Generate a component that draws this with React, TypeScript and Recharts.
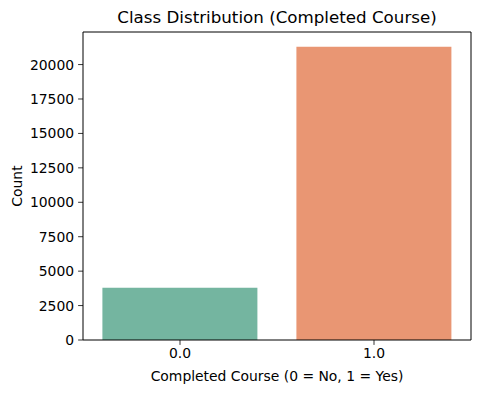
import { BarChart, Bar, XAxis, YAxis, Cell } from "recharts";

const categories = ["0.0", "1.0"];
const counts = [3790, 21300];
const barColors = ["#74b5a0", "#e99673"];
const yTicks = [0, 2500, 5000, 7500, 10000, 12500, 15000, 17500, 20000];

const data = categories.map((c, i) => ({ label: c, count: counts[i] }));

const font = "DejaVu Sans, sans-serif";
const tickStyle = { fill: "#000", fontSize: 13.9, fontFamily: font };

export default function App() {
  return (
    <div style={{ margin: -8, width: 480, height: 393, background: "#fff", position: "relative" }}>
      <BarChart
        width={480}
        height={393}
        data={data}
        margin={{ top: 31, right: 8, bottom: 0, left: 0 }}
        barCategoryGap="10%"
      >
        <text
          x={277}
          y={23}
          textAnchor="middle"
          fontSize={16.7}
          fontFamily={font}
          fill="#000"
        >
          Class Distribution (Completed Course)
        </text>
        <text
          x={277}
          y={381}
          textAnchor="middle"
          fontSize={13.9}
          fontFamily={font}
          fill="#000"
        >
          Completed Course (0 = No, 1 = Yes)
        </text>
        <text
          x={22}
          y={186}
          textAnchor="middle"
          fontSize={13.9}
          fontFamily={font}
          fill="#000"
          transform="rotate(-90, 22, 186)"
        >
          Count
        </text>
        <XAxis
          dataKey="label"
          height={53}
          padding={{ left: 0, right: 0 }}
          axisLine={{ stroke: "#000", strokeWidth: 1 }}
          tickLine={{ stroke: "#000", strokeWidth: 0.8 }}
          tickSize={4.9}
          tickMargin={3}
          tick={tickStyle}
          interval={0}
        />
        <XAxis
          xAxisId="top"
          dataKey="label"
          orientation="top"
          height={1}
          tick={false}
          tickLine={false}
          axisLine={{ stroke: "#000", strokeWidth: 1 }}
        />
        <YAxis
          domain={[0, 22365]}
          ticks={yTicks}
          width={83}
          axisLine={{ stroke: "#000", strokeWidth: 1 }}
          tickLine={{ stroke: "#000", strokeWidth: 0.8 }}
          tickSize={4.9}
          tickMargin={4}
          tick={tickStyle}
          allowDataOverflow
          interval={0}
        />
        <YAxis
          yAxisId="right"
          orientation="right"
          domain={[0, 22365]}
          width={1}
          tick={false}
          tickLine={false}
          axisLine={{ stroke: "#000", strokeWidth: 1 }}
        />
        <Bar dataKey="count" isAnimationActive={false}>
          {data.map((d, i) => (
            <Cell key={d.label} fill={barColors[i]} />
          ))}
        </Bar>
      </BarChart>
    </div>
  );
}
